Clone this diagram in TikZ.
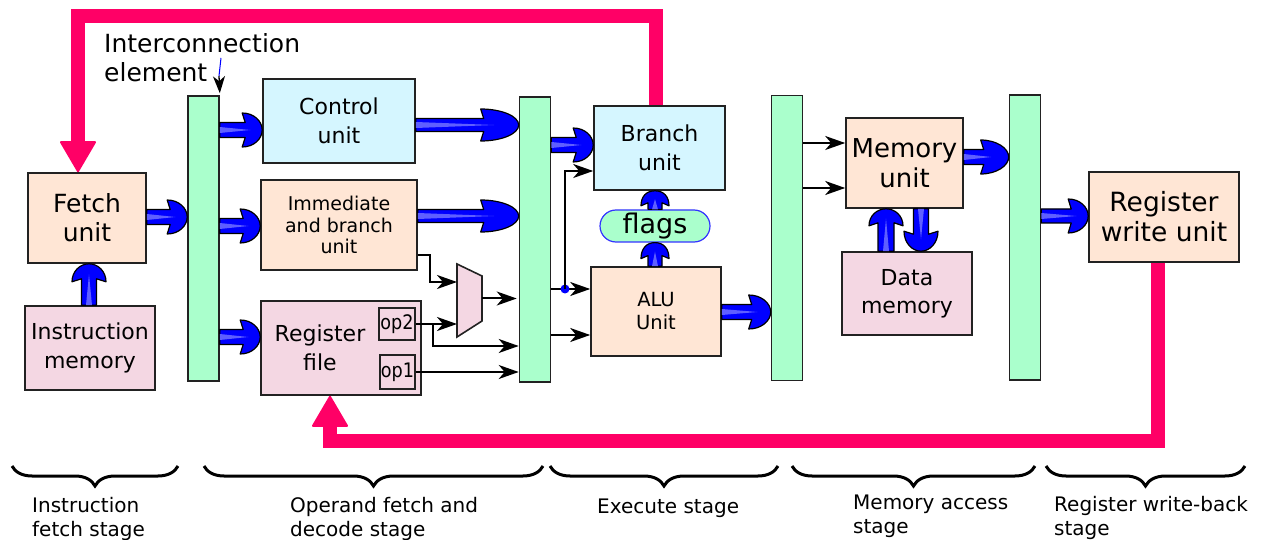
\documentclass[tikz,border=0pt]{standalone}
\usepackage{fontspec}
\setmainfont{DejaVu Sans}
\newfontfamily\condfont[FakeStretch=0.88]{DejaVu Sans}
\usetikzlibrary{arrows.meta,calc,decorations.pathreplacing}
\definecolor{peach}{RGB}{255,230,213}
\definecolor{pinkbox}{RGB}{244,215,227}
\definecolor{lblue}{RGB}{213,246,255}
\definecolor{mint}{RGB}{170,255,204}
\definecolor{fbpink}{RGB}{255,0,102}
\definecolor{edge}{RGB}{34,34,34}
\definecolor{fatblue}{RGB}{0,0,255}
\definecolor{fatlight}{RGB}{95,95,255}
% fat block arrow: {start}{end}{head length}{shaft half width}{head half width}
\newcommand\fatarrow[5]{%
  \path (#1) coordinate (FAs) (#2) coordinate (FAe);
  \path ($(FAe)!#3!(FAs)$) coordinate (FAb);
  \path ($(FAb)!3pt!(FAs)$) coordinate (FAc);
  \path ($(FAb)!0.5!(FAe)$) coordinate (FAm);
  \draw[fatshape]
    ($(FAs)!#4!90:(FAe)$) -- ($(FAb)!#4!-90:(FAs)$) -- ($(FAc)!#5!-90:(FAs)$)
    .. controls ($(FAm)!#5!-90:(FAs)$) and ($(FAe)!9pt!-90:(FAs)$) .. (FAe)
    .. controls ($(FAe)!9pt!90:(FAs)$) and ($(FAm)!#5!90:(FAs)$) .. ($(FAc)!#5!90:(FAs)$)
    -- ($(FAb)!#4!90:(FAs)$) -- ($(FAs)!#4!-90:(FAe)$) -- cycle;
  \fill[fatlight] ($(FAs)!3pt!90:(FAe)$) -- ($(FAb)!0.3!(FAe)$) -- ($(FAs)!3pt!-90:(FAe)$) -- cycle;
}
\begin{document}
\begin{tikzpicture}[x=1pt,y=-1pt,
  box/.style={draw=edge, line width=1.6pt, inner sep=0pt, align=center},
  bar/.style={draw=edge, line width=1.6pt, fill=mint, minimum width=31pt, minimum height=285pt, inner sep=0pt},
  fatshape/.style={draw=black, line width=1.2pt, fill=fatblue, line join=round},
  wire/.style={line width=2pt, black},
  arr/.style={wire, -{Stealth[length=20pt,width=14pt,inset=6pt]}},
  fb/.style={line width=14pt, fbpink, -{Triangle[length=32pt,width=37pt,line width=2pt,round]}},
  f22/.style={font=\fontsize{22}{29}\selectfont},
  f25/.style={font=\fontsize{25}{29}\selectfont},
  stagelbl/.style={anchor=north west, inner sep=0pt, align=left, font=\fontsize{20}{24}\selectfont},
  bracestyle/.style={line width=3pt, decorate, decoration={brace, mirror, amplitude=20pt}}
]
\useasboundingbox (0,0) rectangle (1270,540);

% ---- interconnection bars
\node[bar] (bar1) at (203.5,238.5) {};
\node[bar] (bar2) at (535,239.5) {};
\node[bar] (bar3) at (787,238) {};
\node[bar] (bar4) at (1025,237.5) {};

% ---- boxes
\node[box, fill=peach, minimum width=118pt, minimum height=90pt, f25] (fetch) at (87,218) {Fetch\\unit};
\node[box, fill=pinkbox, minimum width=130pt, minimum height=84pt, f22] (imem) at (90,348) {Instruction\\memory};
\node[box, fill=lblue, minimum width=152pt, minimum height=84pt, f22] (ctrl) at (339,121) {Control\\unit};
\node[box, fill=peach, minimum width=156pt, minimum height=90pt, font=\fontsize{19}{21.5}\selectfont] (imm) at (339,225) {Immediate\\and branch\\unit};
\node[box, fill=pinkbox, minimum width=160pt, minimum height=94pt] (regfile) at (341,348) {};
\node[inner sep=0pt, align=center, f22] (rftext) at (320,348) {Register\\file};
\node[box, fill=pinkbox, line width=1.2pt, minimum width=36pt, minimum height=32pt, font=\condfont\fontsize{20}{24}\selectfont] (op2) at (397,324) {op2};
\node[box, fill=pinkbox, line width=1.2pt, minimum width=35pt, minimum height=34pt, font=\condfont\fontsize{20}{24}\selectfont] (op1) at (397.5,372) {op1};
\node[box, fill=lblue, minimum width=131pt, minimum height=84pt, f22] (branch) at (659.5,148) {Branch\\unit};
\node[draw=blue!80!white, line width=1.2pt, fill=mint, rounded corners=16pt, minimum width=110pt, minimum height=32pt, inner sep=0pt, font=\fontsize{27}{30}\selectfont] (flags) at (655,226) {flags};
\node[box, fill=peach, minimum width=130pt, minimum height=89pt, font=\fontsize{19.5}{23}\selectfont] (alu) at (656,311.5) {ALU\\Unit};
\node[box, fill=peach, minimum width=117pt, minimum height=90pt, font=\fontsize{26}{30}\selectfont] (mem) at (904.5,163) {Memory\\unit};
\node[box, fill=pinkbox, minimum width=130pt, minimum height=83pt, font=\fontsize{22}{28}\selectfont] (dmem) at (907,293.5) {Data\\memory};
\node[box, fill=peach, minimum width=150pt, minimum height=90pt, font=\fontsize{26.5}{30}\selectfont] (rw) at (1164,217) {Register\\write unit};

% ---- multiplexer
\coordinate (mux1) at (457,282);
\coordinate (mux2) at (457,324);
\coordinate (muxout) at (482,298.5);
\draw[draw=edge, fill=pinkbox, line width=1.6pt] (457,264) -- (482,276) -- (482,321) -- (457,337) -- cycle;

% ---- interconnection label
\node[anchor=north west, inner sep=0pt, align=left, f25] (iclabel) at (104,33) {Interconnection\\element};
\coordinate (ictop) at (221,58);
\coordinate (icmid) at (219,76);
\draw[blue, line width=1pt] (ictop) -- (icmid);
\draw[line width=1.3pt, -{Stealth[length=17pt,width=12pt,inset=5pt]}] (icmid) -- ([yshift=2pt]bar1.north east);

% ---- thin black wires
\draw[arr] ([yshift=-30pt]imm.east) -| (430,282) -- (mux1);
\draw[arr] (op2.east) -- (mux2);
\draw[arr] ($(op2.east)+(17,0)$) |- (bar2.west |- 0,346);
\draw[arr] (op1.east) -- (bar2.west |- op1.east);
\draw[arr] (muxout) -- ([xshift=-2pt]bar2.west |- muxout);
\draw[arr] (bar2.east |- 0,289) -- (alu.west |- 0,289);
\draw[arr] (bar2.east |- 0,335) -- (alu.west |- 0,335);
\node[circle, fill=blue, inner sep=0pt, minimum size=9pt] (dot) at (565,289) {};
\draw[arr] (dot.center) |- (branch.west |- 0,171);
\draw[arr] (bar3.east |- 0,143) -- (mem.west |- 0,143);
\draw[arr] (bar3.east |- 0,188) -- (mem.west |- 0,188);

% ---- fat blue arrows
\fatarrow{fetch.east |- 0,217}{bar1.west |- 0,217}{17pt}{7.5pt}{17pt}
\fatarrow{bar1.east |- 0,130}{ctrl.west |- 0,130}{17pt}{7.5pt}{17pt}
\fatarrow{bar1.east |- 0,226}{imm.west |- 0,226}{17pt}{7.5pt}{17pt}
\fatarrow{bar1.east |- 0,337}{regfile.west |- 0,337}{17pt}{7.5pt}{17pt}
\fatarrow{imem.north -| 89,0}{fetch.south -| 89,0}{15pt}{7.5pt}{17pt}
\fatarrow{ctrl.east |- 0,125}{bar2.west |- 0,125}{35pt}{6.5pt}{16pt}
\fatarrow{imm.east |- 0,216}{bar2.west |- 0,216}{35pt}{6.5pt}{16pt}
\fatarrow{bar2.east |- 0,145}{branch.west |- 0,145}{17pt}{7.5pt}{17pt}
\fatarrow{alu.north -| 655,0}{flags.south -| 655,0}{13pt}{7pt}{14pt}
\fatarrow{flags.north -| 655,0}{branch.south -| 655,0}{12pt}{7pt}{14pt}
\fatarrow{alu.east |- 0,312}{bar3.west |- 0,312}{19pt}{7.5pt}{17pt}
\fatarrow{mem.east |- 0,157}{bar4.west |- 0,157}{25pt}{7.5pt}{17pt}
\fatarrow{dmem.north -| 886,0}{mem.south -| 886,0}{14pt}{8pt}{17pt}
\fatarrow{mem.south -| 921,0}{dmem.north -| 921,0}{17pt}{7.5pt}{17pt}
\fatarrow{bar4.east |- 0,216}{rw.west |- 0,216}{17pt}{7pt}{17pt}

% ---- feedback paths
\coordinate (fbc) at (78,16);
\coordinate (fbd) at (330,441);
\draw[fb] ([xshift=-4pt]branch.north) |- (fbc) -- (fetch.north -| fbc);
\draw[fb] ([xshift=-6pt]rw.south) |- (fbd) -- (regfile.south -| fbd);

% ---- stage braces
\draw[bracestyle] (12,466) -- (178,466);
\draw[bracestyle] (204,466) -- (543,466);
\draw[bracestyle] (550,466) -- (778,466);
\draw[bracestyle] (792,466) -- (1035,466);
\draw[bracestyle] (1046,466) -- (1245,466);

\node[stagelbl] (s1) at (32,497) {Instruction\\fetch stage};
\node[stagelbl] (s2) at (290,497) {Operand fetch and\\decode stage};
\node[stagelbl] (s3) at (597,499) {Execute stage};
\node[stagelbl] (s4) at (853,495) {Memory access\\stage};
\node[stagelbl] (s5) at (1054,496) {Register write-back\\stage};
\end{tikzpicture}
\end{document}
